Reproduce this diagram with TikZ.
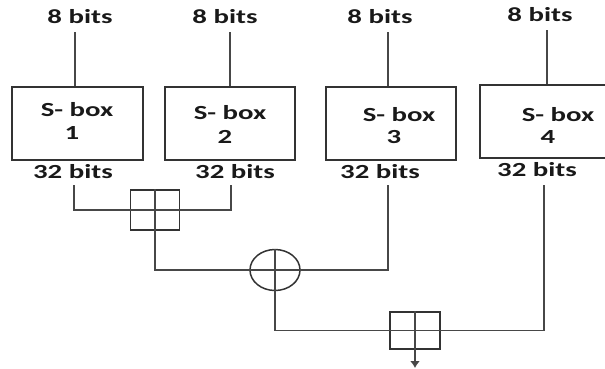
\documentclass[tikz,border=0pt]{standalone}
\usepackage{fontspec}
\setmainfont{Carlito}
\usetikzlibrary{shapes.geometric,arrows.meta}
\newcommand{\widetxt}[1]{\scalebox{1.44}[1]{#1}}
\begin{document}
\begin{tikzpicture}[x=1pt,y=-1pt,
  lbl/.style={font=\fontsize{20}{22}\selectfont\bfseries, inner sep=0pt, text=black!90},
  sbox/.style={draw=black!80, line width=1.8pt, rectangle, inner sep=0pt},
  wire/.style={draw=black!72, line width=1.8pt},
  addsq/.style={draw=black!80, line width=1.8pt, rectangle, inner sep=0pt, minimum width=49pt, minimum height=40pt},
  xorc/.style={draw=black!80, line width=1.5pt, ellipse, inner sep=0pt, minimum width=50pt, minimum height=41pt}]
\useasboundingbox (0,0) rectangle (605,368);
% input labels
\node[lbl] (in1) at (80,17) {\widetxt{8 bits}};
\node[lbl] (in2) at (225,17) {\widetxt{8 bits}};
\node[lbl] (in3) at (380,17) {\widetxt{8 bits}};
\node[lbl] (in4) at (540,15) {\widetxt{8 bits}};
\coordinate (t1) at (75,32);
\coordinate (t2) at (230,32);
\coordinate (t3) at (388,32);
\coordinate (t4) at (547,30);
% S-boxes
\node[sbox, minimum width=131pt, minimum height=73pt] (b1) at (77.5,123.5) {};
\node[sbox, minimum width=130pt, minimum height=73pt] (b2) at (230,123.5) {};
\node[sbox, minimum width=130pt, minimum height=73pt] (b3) at (391,123.5) {};
\node[sbox, minimum width=130pt, minimum height=73pt] (b4) at (545,121.5) {};
\node[lbl] (s1a) at (77,110) {\widetxt{S- box}};
\node[lbl] (s1b) at (72,133) {\widetxt{1}};
\node[lbl] (s2a) at (230,113) {\widetxt{S- box}};
\node[lbl] (s2b) at (225,137) {\widetxt{2}};
\node[lbl] (s3a) at (399,115) {\widetxt{S- box}};
\node[lbl] (s3b) at (394,137) {\widetxt{3}};
\node[lbl] (s4a) at (558,115) {\widetxt{S- box}};
\node[lbl] (s4b) at (548,137) {\widetxt{4}};
% output labels
\node[lbl] (o1l) at (73,172) {\widetxt{32 bits}};
\node[lbl] (o2l) at (235,172) {\widetxt{32 bits}};
\node[lbl] (o3l) at (380,172) {\widetxt{32 bits}};
\node[lbl] (o4l) at (537,170) {\widetxt{32 bits}};
% inputs to boxes
\draw[wire] (t1) -- (t1 |- b1.north);
\draw[wire] (t2) -- (t2 |- b2.north);
\draw[wire] (t3) -- (t3 |- b3.north);
\draw[wire] (t4) -- (t4 |- b4.north);
% combining network
\coordinate (o1) at (74,185);
\coordinate (o2) at (231,185);
\coordinate (o3) at (388,185);
\coordinate (o4) at (544,185);
\coordinate (out) at (415,368);
\node[addsq] (sq1) at (155,210) {};
\node[xorc] (xo) at (275,270) {};
\node[addsq, minimum width=50pt, minimum height=37pt] (sq2) at (415,330.5) {};
\draw[wire] (o1) |- (sq1.west);
\draw[wire] (sq1.east) -| (o2);
\draw[wire] (sq1.north) -- (sq1.south);
\draw[wire] (sq1.west) -- (sq1.east);
\draw[wire] (sq1.south) |- (xo.west);
\draw[wire] (xo.east) -| (o3);
\draw[wire] (xo.north) -- (xo.south);
\draw[wire] (xo.west) -- (xo.east);
\draw[wire] (xo.south) |- (sq2.west);
\draw[wire] (sq2.east) -| (o4);
\draw[wire] (sq2.north) -- (sq2.south);
\draw[wire] (sq2.west) -- (sq2.east);
\draw[wire, -{Latex[length=7pt,width=10pt]}] (sq2.south) -- (out);
\end{tikzpicture}
\end{document}
